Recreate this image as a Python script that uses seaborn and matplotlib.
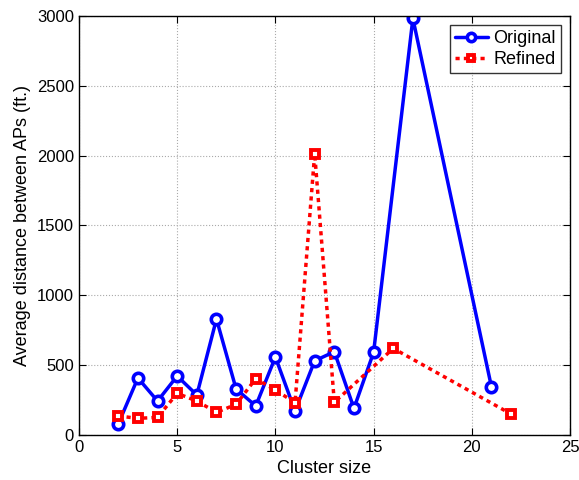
import matplotlib
matplotlib.use('Agg')
import matplotlib.pyplot as plt
import pandas as pd
import seaborn as sns

orig_size = [2, 3, 4, 5, 6, 7, 8, 9, 10, 11, 12, 13, 14, 15, 17, 21]
orig_dist = [79, 408, 243, 422, 286, 830, 329, 208, 558, 172, 531, 596, 191, 592, 2982, 344]

ref_size = [2, 3, 4, 5, 6, 7, 8, 9, 10, 11, 12, 13, 16, 22]
ref_dist = [136, 119, 126, 298, 243, 162, 219, 403, 322, 231, 2015, 234, 620, 150]

orig = pd.DataFrame({'size': orig_size, 'dist': orig_dist})
ref = pd.DataFrame({'size': ref_size, 'dist': ref_dist})

sns.set_style('ticks')
plt.rcParams['font.family'] = ['Liberation Sans', 'DejaVu Sans']
plt.rcParams['text.color'] = 'black'
plt.rcParams['axes.labelcolor'] = 'black'
plt.rcParams['xtick.color'] = 'black'
plt.rcParams['ytick.color'] = 'black'

fig, ax = plt.subplots(figsize=(5.79, 4.8), dpi=100)
fig.subplots_adjust(left=0.1364, right=0.9845, top=0.9667, bottom=0.0938)

sns.lineplot(x='size', y='dist', data=orig, ax=ax, color='#0000ff',
             linewidth=2.5, marker='o', markersize=7.5, markerfacecolor='white',
             markeredgecolor='#0000ff', markeredgewidth=2.6, label='Original',
             estimator=None, sort=False)
sns.lineplot(x='size', y='dist', data=ref, ax=ax, color='#ff0000',
             linewidth=2.5, linestyle=(0, (1.2, 1.2)), marker='s', markersize=6,
             markerfacecolor='white', markeredgecolor='#ff0000',
             markeredgewidth=2.8, label='Refined', estimator=None, sort=False)

ax.set_xlim(0, 25)
ax.set_ylim(0, 3000)
ax.set_xticks(range(0, 26, 5))
ax.set_yticks(range(0, 3001, 500))
ax.grid(True, linestyle=':', color='#aaaaaa', linewidth=0.8)
ax.tick_params(direction='in', top=True, right=True, labelsize=12, length=5)
for s in ax.spines.values():
    s.set_visible(True)
    s.set_linewidth(1.0)
    s.set_color('black')

ax.set_xlabel('Cluster size', fontsize=13)
ax.set_ylabel('Average distance between APs (ft.)', fontsize=13)

leg = ax.legend(loc='upper right', fontsize=13, frameon=True, fancybox=False,
                handlelength=1.8, handletextpad=0.3, borderpad=0.3,
                labelspacing=0.2, borderaxespad=0.5, markerscale=0.8)
leg.get_frame().set_edgecolor('black')
leg.get_frame().set_linewidth(1.0)

fig.savefig('out.png', dpi=100)
